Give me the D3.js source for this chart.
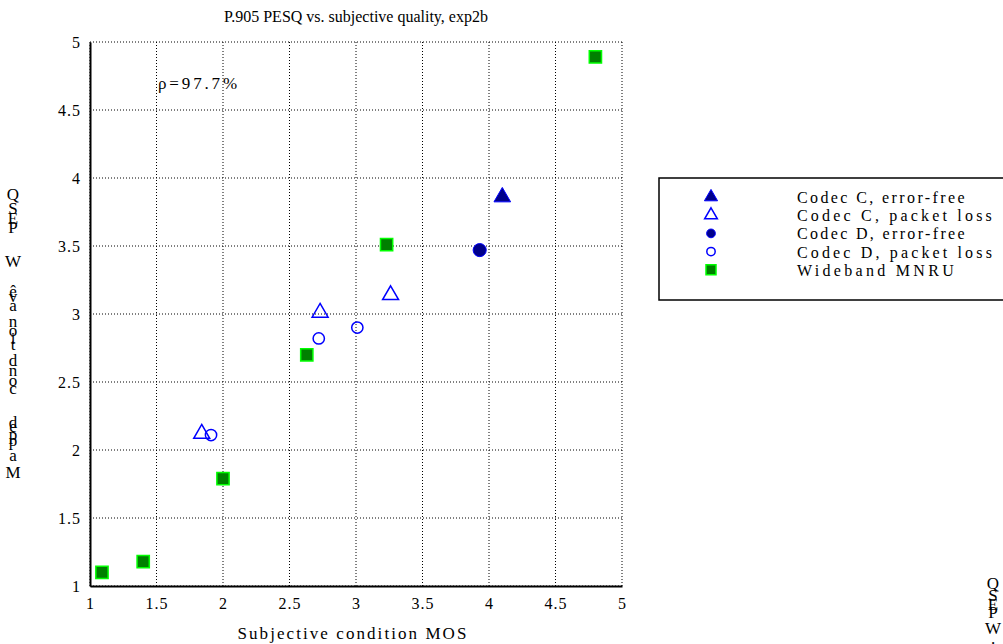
<!DOCTYPE html>
<html>
<head>
<meta charset="utf-8">
<script src="https://cdn.jsdelivr.net/npm/d3@7"></script>
<style>
  body { margin: 0; background: #fff; }
  svg text { font-family: "Liberation Serif", "Times New Roman", Tinos, serif; fill: #000; }
</style>
</head>
<body>
<div class="Canvas"></div>
<script>
// values
const title = 'P.905 PESQ vs. subjective quality, exp2b';
const xLabel = 'Subjective condition MOS';
const rhoText = 'ρ=97.7%';
const xTicks = [1, 1.5, 2, 2.5, 3, 3.5, 4, 4.5, 5];
const yTicks = [1, 1.5, 2, 2.5, 3, 3.5, 4, 4.5, 5];

const codecCErrorFree = [[4.10, 3.86]];
const codecCPacketLoss = [[2.73, 3.01], [3.26, 3.14], [1.84, 2.12]];
const codecDErrorFree = [[3.93, 3.47]];
const codecDPacketLoss = [[2.72, 2.82], [3.01, 2.90], [1.91, 2.11]];
const widebandMNRU = [[1.09, 1.10], [1.40, 1.18], [2.00, 1.79], [2.63, 2.70], [3.23, 3.51], [4.80, 4.89]];

const legendNames = ['Codec C, error-free', 'Codec C, packet loss', 'Codec D, error-free', 'Codec D, packet loss', 'Wideband MNRU'];

// garbled vertical y label, as it shows in the picture (one char per line)
const yLabelChars = ['Q','S','E','P','W','ê','v','a','n','o','i','t','d','n','o','c','d','e','p','p','a','M'];
const yLabelPos = [200,214,224,233,267,297,302,311,327,336,344,350,366,376,386,394,428,432,440,446,461,478];
const yLabel2Chars = ['Q','S','E','P','W','.'];
const yLabel2Pos = [589,601,610,618,634,644];

const width = 1003;
const height = 644;
const plotLeft = 90, plotRight = 622, plotTop = 42, plotBottom = 586;

const svg = d3.select('.Canvas').append('svg').attr('width', width).attr('height', height);

const x = d3.scaleLinear().domain([1, 5]).range([plotLeft, plotRight]);
const y = d3.scaleLinear().domain([1, 5]).range([plotBottom, plotTop]);

// stretch a text with letter-spacing so it spans the wanted width
function fitWidth(sel, w) {
    sel.attr('letter-spacing', 0);
    const n = sel.text().length;
    const len = sel.node().getComputedTextLength();
    sel.attr('letter-spacing', Math.max(0, (w - len) / n) + 'px');
    return sel;
}

// grid, dotted
const grid = svg.append('g');
grid.selectAll('line.gx').data(xTicks).enter().append('line')
    .attr('x1', (d) => x(d)).attr('x2', (d) => x(d))
    .attr('y1', plotTop).attr('y2', plotBottom)
    .attr('stroke', '#000').attr('stroke-width', 1).attr('stroke-dasharray', '1,2');
grid.selectAll('line.gy').data(yTicks).enter().append('line')
    .attr('x1', plotLeft).attr('x2', plotRight)
    .attr('y1', (d) => y(d)).attr('y2', (d) => y(d))
    .attr('stroke', '#000').attr('stroke-width', 1).attr('stroke-dasharray', '1,2');

// axes
const xAxis = d3.axisBottom(x).tickValues(xTicks).tickSize(0).tickPadding(12).tickFormat(d3.format('~g'));
const yAxis = d3.axisLeft(y).tickValues(yTicks).tickSize(0).tickPadding(9).tickFormat(d3.format('~g'));
const gx = svg.append('g').attr('transform', `translate(0,${plotBottom})`).call(xAxis);
const gy = svg.append('g').attr('transform', `translate(${plotLeft},0)`).call(yAxis);
[gx, gy].forEach((g) => {
    g.attr('font-family', null).attr('font-size', null);
    g.select('.domain').attr('stroke', '#000').attr('stroke-width', 2);
    g.selectAll('text').attr('font-size', '16px').attr('fill', '#000').attr('letter-spacing', '1px');
});

// title and labels
const titleText = svg.append('text').attr('x', 356).attr('y', 22).attr('text-anchor', 'middle')
    .attr('font-size', '16px').text(title);
fitWidth(titleText, 261);
const xLabText = svg.append('text').attr('x', 353).attr('y', 639).attr('text-anchor', 'middle')
    .attr('font-size', '17px').text(xLabel);
fitWidth(xLabText, 231);
const rho = svg.append('text').attr('x', 158).attr('y', 89).attr('font-size', '17px').text(rhoText);
fitWidth(rho, 82);

svg.selectAll('text.ylab').data(yLabelChars).enter().append('text')
    .attr('x', 13).attr('y', (d, i) => yLabelPos[i]).attr('text-anchor', 'middle')
    .attr('font-size', '17px').text((d) => d);
svg.selectAll('text.ylab2').data(yLabel2Chars).enter().append('text')
    .attr('x', 993).attr('y', (d, i) => yLabel2Pos[i]).attr('text-anchor', 'middle')
    .attr('font-size', '17px').text((d) => d);

// marker drawing
const series = [
    { pts: codecCErrorFree, type: d3.symbolTriangle, size: 120, lsize: 75, fill: '#00008b', stroke: '#0000ff', sw: 1 },
    { pts: codecCPacketLoss, type: d3.symbolTriangle, size: 110, lsize: 70, fill: 'none', stroke: '#0000ff', sw: 1.5 },
    { pts: codecDErrorFree, type: d3.symbolCircle, size: 135, lsize: 60, fill: '#00008b', stroke: '#0000ff', sw: 1 },
    { pts: codecDPacketLoss, type: d3.symbolCircle, size: 100, lsize: 55, fill: 'none', stroke: '#0000ff', sw: 1.5 },
    { pts: widebandMNRU, type: d3.symbolSquare, size: 150, lsize: 100, fill: '#008000', stroke: '#00ff00', sw: 1.5 },
];
series.forEach((s) => {
    svg.append('g').selectAll('path').data(s.pts).enter().append('path')
        .attr('d', d3.symbol().type(s.type).size(s.size))
        .attr('transform', (d) => `translate(${x(d[0])},${y(d[1])})`)
        .attr('fill', s.fill).attr('stroke', s.stroke).attr('stroke-width', s.sw);
});

// legend
const lg = svg.append('g');
lg.append('rect').attr('x', 659).attr('y', 178).attr('width', 360).attr('height', 122)
    .attr('fill', '#fff').attr('stroke', '#000').attr('stroke-width', 1.5);
const legendWidths = [170, 198, 170, 198, 160];
legendNames.forEach((name, i) => {
    const s = series[i];
    const ly = 197 + i * 18.2;
    lg.append('path').attr('d', d3.symbol().type(s.type).size(s.lsize)).attr('transform', `translate(711,${ly})`)
        .attr('fill', s.fill).attr('stroke', s.stroke).attr('stroke-width', s.sw);
    const t = lg.append('text').attr('x', 797).attr('y', ly + 6).attr('font-size', '16px').text(name);
    fitWidth(t, legendWidths[i]);
});
</script>
</body>
</html>
